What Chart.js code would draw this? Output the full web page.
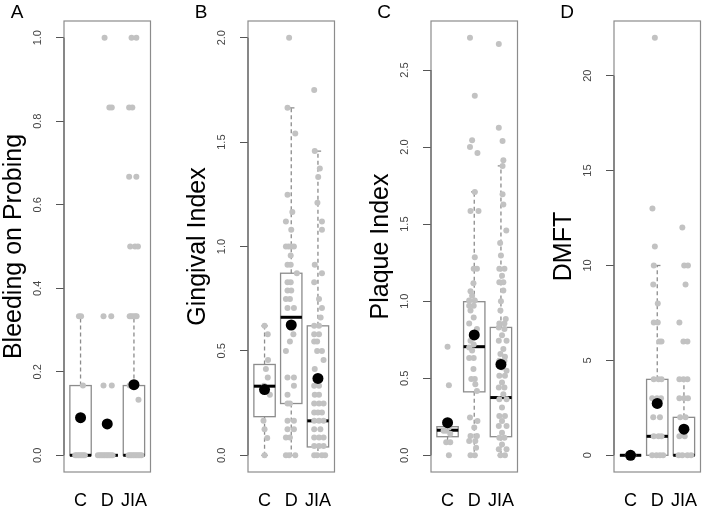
<!DOCTYPE html>
<html>
<head>
<meta charset="utf-8">
<script src="https://cdn.jsdelivr.net/npm/chart.js@4.4.1/dist/chart.umd.min.js"></script>
<style>
    html, body { margin: 0; padding: 0; background: #fff; }
    #wrap { position: relative; width: 709px; height: 507px; overflow: hidden; }
    #wrap canvas { position: absolute; top: 0; }
</style>
</head>
<body>
<div id="wrap">
    <canvas id="panelA" width="158" height="507"></canvas>
    <canvas id="panelB" width="158" height="507"></canvas>
    <canvas id="panelC" width="158" height="507"></canvas>
    <canvas id="panelD" width="158" height="507"></canvas>
</div>
<script>
// grupos
var grupos = ['C', 'D', 'JIA'];

// A - Bleeding on Probing
var bopTicks = [0, 0.2, 0.4, 0.6, 0.8, 1.0];
var bopRange = [-0.04, 1.04];
var bopLow = [0, 0, 0];
var bopQ1 = [0, 0, 0];
var bopMed = [0, 0, 0];
var bopQ3 = [0.167, 0, 0.167];
var bopHigh = [0.333, 0, 0.333];
var bopMean = [0.09, 0.075, 0.169];
var bopPuntos = [
    [0.8, 0], [0.86, 0], [0.92, 0], [0.98, 0], [1.04, 0], [1.1, 0], [1.16, 0],
    [1.09, 0.167], [0.94, 0.333], [1.02, 0.333],
    [1.65, 0], [1.72, 0], [1.78, 0], [1.84, 0], [1.9, 0], [1.96, 0], [2.02, 0], [2.08, 0], [2.14, 0], [2.2, 0],
    [1.86, 0.167], [2.17, 0.167], [1.86, 0.333], [2.15, 0.333], [2.08, 0.833], [2.17, 0.833], [1.9, 1.0],
    [2.8, 0], [2.86, 0], [2.92, 0], [2.98, 0], [3.04, 0], [3.1, 0], [3.16, 0], [3.22, 0], [3.28, 0],
    [3.17, 0.133], [2.84, 0.167], [2.92, 0.167], [3.0, 0.167], [3.06, 0.167],
    [2.84, 0.333], [2.9, 0.333], [2.97, 0.333], [3.05, 0.333], [3.1, 0.333],
    [2.86, 0.5], [3.04, 0.5], [3.15, 0.5], [2.82, 0.667], [3.09, 0.667],
    [2.82, 0.833], [2.94, 0.833], [2.91, 1.0], [3.09, 1.0]
];

// B - Gingival Index
var giTicks = [0, 0.5, 1.0, 1.5, 2.0];
var giRange = [-0.08, 2.08];
var giLow = [0, 0, 0];
var giQ1 = [0.185, 0.248, 0.04];
var giMed = [0.331, 0.661, 0.165];
var giQ3 = [0.435, 0.872, 0.62];
var giHigh = [0.62, 1.664, 1.457];
var giMean = [0.315, 0.624, 0.368];
var giPuntos = [
    [1.0, 0.62], [1.12, 0.58], [1.13, 0.456], [1.05, 0.413], [1.12, 0.373], [0.98, 0.333], [1.2, 0.29],
    [0.96, 0.165], [1.0, 0.125], [1.1, 0.083], [1.0, 0],
    [1.92, 2.0], [1.86, 1.664], [2.15, 1.541], [1.86, 1.248], [2.04, 1.165], [1.8, 1.12], [2.0, 1.08],
    [1.8, 1.0], [1.9, 1.0], [2.0, 1.0], [2.1, 1.0], [1.98, 0.957], [1.86, 0.913], [1.98, 0.913], [2.21, 0.872],
    [1.86, 0.829], [1.98, 0.829], [1.86, 0.789], [2.0, 0.789], [1.8, 0.749], [1.95, 0.749], [1.86, 0.706],
    [2.1, 0.706], [1.98, 0.62], [2.08, 0.58], [1.95, 0.545], [1.8, 0.5], [1.86, 0.373], [2.1, 0.373],
    [2.1, 0.333], [1.86, 0.29], [1.86, 0.248], [1.95, 0.248], [1.86, 0.165], [2.1, 0.165], [1.86, 0.125],
    [2.1, 0.125], [1.8, 0.085], [1.95, 0.085], [1.8, 0], [1.92, 0], [2.15, 0],
    [2.86, 1.749], [2.88, 1.457], [3.07, 1.373], [3.01, 1.333], [2.98, 1.21], [3.15, 1.12], [3.15, 1.08],
    [2.88, 0.913], [3.15, 0.872], [2.86, 0.829], [3.04, 0.749], [3.15, 0.706], [3.1, 0.66], [2.86, 0.62],
    [3.04, 0.62], [2.86, 0.58], [3.04, 0.58], [2.86, 0.545], [2.97, 0.545], [2.97, 0.5], [3.15, 0.5],
    [3.21, 0.456], [2.88, 0.413], [2.86, 0.333], [3.04, 0.333], [2.88, 0.29], [3.04, 0.29], [2.86, 0.248],
    [3.04, 0.248], [3.21, 0.248], [2.86, 0.205], [3.0, 0.205], [3.15, 0.205], [2.86, 0.165], [3.04, 0.165],
    [3.21, 0.165], [2.86, 0.125], [3.09, 0.125], [2.86, 0.085], [3.04, 0.085], [3.21, 0.085], [2.86, 0.045],
    [3.04, 0.045], [3.21, 0.045], [2.86, 0], [2.97, 0], [3.15, 0], [3.27, 0]
];

// C - Plaque Index
var piTicks = [0, 0.5, 1.0, 1.5, 2.0, 2.5];
var piRange = [-0.108, 2.818];
var piLow = [0.083, 0, 0];
var piQ1 = [0.121, 0.412, 0.121];
var piMed = [0.163, 0.705, 0.375];
var piQ3 = [0.186, 0.997, 0.83];
var piHigh = [0.186, 1.709, 1.878];
var piMean = [0.212, 0.781, 0.59];
var piPuntos = [
    [1.0, 0.705], [1.05, 0.455], [0.85, 0.16], [0.95, 0.16], [1.1, 0.14], [1.05, 0.18], [0.95, 0.085],
    [1.1, 0.085], [1.05, 0],
    [1.84, 2.71], [2.02, 2.333], [1.92, 2.045], [1.84, 2.0], [2.12, 1.962], [2.02, 1.709], [1.86, 1.585],
    [2.16, 1.585], [2.02, 1.286], [1.98, 1.21], [2.1, 1.21], [1.97, 1.117], [1.86, 1.064], [1.92, 1.036],
    [1.81, 1.004], [2.02, 1.004], [1.81, 0.971], [1.98, 0.971], [1.86, 0.94], [1.98, 0.895], [1.81, 0.856],
    [2.1, 0.82], [1.86, 0.744], [1.98, 0.72], [1.81, 0.7], [1.92, 0.68], [1.81, 0.631], [1.98, 0.631],
    [1.97, 0.56], [2.02, 0.496], [1.89, 0.496], [2.04, 0.462], [2.1, 0.418], [1.84, 0.245], [2.12, 0.223],
    [2.0, 0.18], [1.86, 0.125], [2.1, 0.125], [1.81, 0.093], [2.04, 0.093], [2.07, 0.05], [1.86, 0], [2.02, 0],
    [2.92, 2.668], [2.92, 2.125], [3.06, 2.04], [3.09, 1.915], [3.06, 1.878], [3.06, 1.694], [3.09, 1.628],
    [3.2, 1.459], [2.97, 1.377], [3.0, 1.297], [2.94, 1.21], [3.13, 1.21], [3.04, 1.166], [2.94, 1.123],
    [3.09, 1.123], [3.09, 1.069], [3.0, 1.0], [2.98, 0.94], [3.18, 0.885], [2.94, 0.856], [3.13, 0.856],
    [2.92, 0.83], [3.13, 0.82], [3.04, 0.78], [2.92, 0.744], [3.21, 0.744], [3.09, 0.69], [2.98, 0.657],
    [3.15, 0.64], [2.94, 0.614], [3.13, 0.614], [3.04, 0.57], [3.21, 0.549], [2.94, 0.516], [3.15, 0.516],
    [3.04, 0.472], [2.92, 0.44], [3.13, 0.44], [3.09, 0.397], [2.94, 0.364], [3.21, 0.364], [3.04, 0.31],
    [2.94, 0.256], [3.15, 0.256], [3.04, 0.223], [2.92, 0.19], [3.21, 0.19], [3.04, 0.147], [2.94, 0.114],
    [3.13, 0.114], [3.04, 0.071], [2.92, 0.039], [3.21, 0.039], [2.98, 0], [3.15, 0]
];

// D - DMFT
var dmftTicks = [0, 5, 10, 15, 20];
var dmftRange = [-0.88, 22.88];
var dmftLow = [0, 0, 0];
var dmftQ1 = [0, 0, 0];
var dmftMed = [0, 1, 0];
var dmftQ3 = [0, 4, 2];
var dmftHigh = [0, 10, 4];
var dmftMean = [0, 2.73, 1.376];
var dmftPuntos = [
    [0.9, 0], [1.0, 0], [1.1, 0],
    [1.91, 22], [1.82, 13], [1.91, 11], [1.87, 10], [1.85, 9], [2.02, 8], [1.87, 7], [2.02, 7], [2.08, 6],
    [2.16, 6], [1.87, 4], [2.05, 4], [2.16, 4], [1.81, 3], [1.99, 3], [2.14, 3], [1.85, 2], [2.1, 2],
    [1.87, 1], [2.05, 1], [2.16, 1], [1.81, 0], [1.97, 0], [2.1, 0], [2.22, 0],
    [2.94, 12], [3.01, 10], [3.15, 10], [3.06, 9], [2.83, 7], [2.98, 6], [3.13, 6], [2.83, 4], [2.98, 4],
    [3.13, 4], [2.83, 3], [3.01, 3], [3.15, 3], [2.86, 2], [3.06, 2], [2.83, 1], [3.03, 1], [2.8, 0],
    [2.94, 0], [3.13, 0], [3.27, 0]
];

(function () {

    var FUENTE = 'Liberation Sans, Arial, Helvetica, sans-serif';

    // dibuja cajas, bigotes, marco y etiquetas con las escalas del gráfico
    var cajasPlugin = {
        id: 'cajas',
        beforeDatasetsDraw: function (chart, args, opts) {
            var ctx = chart.ctx;
            var a = chart.chartArea;
            var x = chart.scales.x;
            var y = chart.scales.y;
            ctx.save();

            // marco
            ctx.strokeStyle = '#8c8c8c';
            ctx.lineWidth = 1.2;
            ctx.strokeRect(a.left, a.top, a.right - a.left, a.bottom - a.top);

            // linea del eje entre el primer y el ultimo tick
            var t = opts.ticks;
            ctx.strokeStyle = '#555';
            ctx.lineWidth = 1;
            ctx.beginPath();
            ctx.moveTo(a.left, y.getPixelForValue(t[0]));
            ctx.lineTo(a.left, y.getPixelForValue(t[t.length - 1]));
            ctx.stroke();

            for (var i = 0; i < grupos.length; i++) {
                var cx = x.getPixelForValue(i + 1);
                var hw = x.getPixelForValue(i + 1.4) - cx;
                var sw = x.getPixelForValue(i + 1.12) - cx;
                var pLow = y.getPixelForValue(opts.low[i]);
                var pQ1 = y.getPixelForValue(opts.q1[i]);
                var pMed = y.getPixelForValue(opts.med[i]);
                var pQ3 = y.getPixelForValue(opts.q3[i]);
                var pHigh = y.getPixelForValue(opts.high[i]);

                ctx.strokeStyle = '#8c8c8c';
                ctx.lineWidth = 1.3;

                // bigotes
                ctx.setLineDash([4, 3]);
                ctx.beginPath();
                if (opts.high[i] > opts.q3[i]) { ctx.moveTo(cx, pQ3); ctx.lineTo(cx, pHigh); }
                if (opts.low[i] < opts.q1[i]) { ctx.moveTo(cx, pQ1); ctx.lineTo(cx, pLow); }
                ctx.stroke();
                ctx.setLineDash([]);

                ctx.beginPath();
                if (opts.high[i] > opts.q3[i]) { ctx.moveTo(cx - sw, pHigh); ctx.lineTo(cx + sw, pHigh); }
                if (opts.low[i] < opts.q1[i]) { ctx.moveTo(cx - sw, pLow); ctx.lineTo(cx + sw, pLow); }
                ctx.stroke();

                // caja
                ctx.strokeRect(cx - hw, pQ3, hw * 2, pQ1 - pQ3);

                // mediana
                ctx.strokeStyle = '#000';
                ctx.lineWidth = 3;
                ctx.beginPath();
                ctx.moveTo(cx - hw, pMed);
                ctx.lineTo(cx + hw, pMed);
                ctx.stroke();
            }
            ctx.restore();
        },
        afterDraw: function (chart, args, opts) {
            var ctx = chart.ctx;
            var a = chart.chartArea;
            var y = chart.scales.y;
            ctx.save();

            // etiquetas del eje y, giradas como en R
            ctx.fillStyle = '#444';
            ctx.font = '11px ' + FUENTE;
            ctx.textAlign = 'center';
            ctx.textBaseline = 'middle';
            for (var i = 0; i < opts.ticks.length; i++) {
                var v = opts.ticks[i];
                ctx.save();
                ctx.translate(a.left - 26, y.getPixelForValue(v));
                ctx.rotate(-Math.PI / 2);
                ctx.fillText(v.toFixed(opts.decimales), 0, 0);
                ctx.restore();
            }

            // letra del panel
            ctx.fillStyle = '#000';
            ctx.font = '19px ' + FUENTE;
            ctx.fillText(opts.letra, a.left - 47, 12.5);
            ctx.restore();
        }
    };

    function crearPanel(id, izquierda, letra, titulo, ticks, decimales, rango, low, q1, med, q3, high, medias, puntos) {
        var canvas = document.getElementById(id);
        canvas.style.left = izquierda + 'px';

        var mediasXY = [];
        for (var i = 0; i < medias.length; i++) {
            mediasXY.push({ x: i + 1, y: medias[i] });
        }
        var puntosXY = [];
        for (var j = 0; j < puntos.length; j++) {
            puntosXY.push({ x: puntos[j][0], y: puntos[j][1] });
        }

        return new Chart(canvas.getContext('2d'), {
            type: 'scatter',
            data: {
                datasets: [{
                    label: 'media',
                    data: mediasXY,
                    backgroundColor: '#000',
                    borderWidth: 0,
                    pointRadius: 5.5
                }, {
                    label: 'valores',
                    data: puntosXY,
                    backgroundColor: '#c2c2c2',
                    borderWidth: 0,
                    pointRadius: 3
                }]
            },
            options: {
                responsive: false,
                animation: false,
                devicePixelRatio: 1,
                layout: { padding: { top: 21, right: 1.3, left: 0, bottom: 0 } },
                plugins: {
                    legend: { display: false },
                    tooltip: { enabled: false },
                    cajas: {
                        letra: letra, ticks: ticks, decimales: decimales,
                        low: low, q1: q1, med: med, q3: q3, high: high
                    }
                },
                scales: {
                    x: {
                        type: 'linear',
                        min: 0.38,
                        max: 3.62,
                        grid: { display: false },
                        border: { display: false },
                        afterBuildTicks: function (scale) {
                            scale.ticks = grupos.map(function (g, k) { return { value: k + 1 }; });
                        },
                        afterFit: function (scale) { scale.height = 35; },
                        ticks: {
                            autoSkip: false,
                            maxRotation: 0,
                            padding: 10,
                            color: '#000',
                            font: { size: 18, family: FUENTE },
                            callback: function (v, k) { return grupos[k]; }
                        }
                    },
                    y: {
                        min: rango[0],
                        max: rango[1],
                        afterBuildTicks: function (scale) {
                            scale.ticks = ticks.map(function (v) { return { value: v }; });
                        },
                        afterFit: function (scale) { scale.width = 64; },
                        grid: {
                            display: true,
                            drawOnChartArea: false,
                            drawTicks: true,
                            tickLength: 8,
                            color: '#555'
                        },
                        border: { display: false },
                        ticks: { display: false },
                        title: {
                            display: true,
                            text: titulo,
                            color: '#000',
                            padding: { top: 0, bottom: 0 },
                            font: { size: 25, family: FUENTE, lineHeight: 1.16 }
                        }
                    }
                }
            },
            plugins: [cajasPlugin]
        });
    }

    crearPanel('panelA', 0, 'A', 'Bleeding on Probing', bopTicks, 1, bopRange,
        bopLow, bopQ1, bopMed, bopQ3, bopHigh, bopMean, bopPuntos);
    crearPanel('panelB', 183.7, 'B', 'Gingival Index', giTicks, 1, giRange,
        giLow, giQ1, giMed, giQ3, giHigh, giMean, giPuntos);
    crearPanel('panelC', 367, 'C', 'Plaque Index', piTicks, 1, piRange,
        piLow, piQ1, piMed, piQ3, piHigh, piMean, piPuntos);
    crearPanel('panelD', 550, 'D', 'DMFT', dmftTicks, 0, dmftRange,
        dmftLow, dmftQ1, dmftMed, dmftQ3, dmftHigh, dmftMean, dmftPuntos);

})();
</script>
</body>
</html>
